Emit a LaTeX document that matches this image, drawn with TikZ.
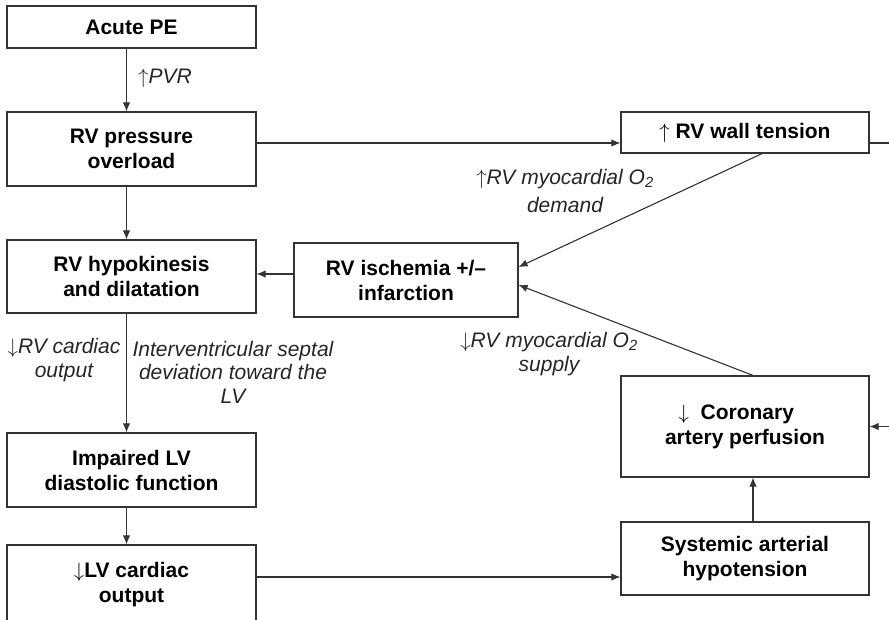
\documentclass[tikz,border=0pt]{standalone}
\usepackage{fontspec}
\setmainfont{Liberation Sans}
\usetikzlibrary{arrows.meta,calc}
\definecolor{ln}{HTML}{333333}
\newcommand{\upar}{\ensuremath{\uparrow}}
\newcommand{\dnar}{\ensuremath{\downarrow}}
\tikzset{
  box/.style={draw=ln, line width=1.2pt, rectangle, inner sep=0pt, align=center,
    font=\fontsize{21}{25}\selectfont\bfseries, text=black},
  lbl/.style={inner sep=0pt, align=center, font=\fontsize{21}{23.5}\selectfont\itshape, text=black!85},
  arr/.style={draw=ln, line width=1.1pt, -{Latex[length=9pt,width=7.5pt]}},
  ln/.style={draw=ln, line width=1.1pt}
}
\begin{document}
\begin{tikzpicture}[x=1pt,y=-1pt]
\useasboundingbox (0,0) rectangle (889,619);
\clip (0,0) rectangle (889,619);
% boxes
\node[box, minimum width=249pt, minimum height=42pt] (ape) at (131.5,27) {Acute PE};
\node[box, minimum width=249pt, minimum height=74pt] (rvp) at (131.5,149) {RV pressure\\overload};
\node[box, minimum width=249pt, minimum height=73pt] (hyp) at (131.5,276.5) {RV hypokinesis\\and dilatation};
\node[box, minimum width=249pt, minimum height=74pt] (ilv) at (131.5,470) {Impaired LV\\diastolic function};
\node[box, minimum width=249pt, minimum height=79pt] (lvo) at (131.5,584.5) {\dnar LV cardiac\\output};
\node[box, minimum width=248pt, minimum height=41pt] (wt) at (745,132.5) {\upar\ RV wall tension};
\node[box, minimum width=224pt, minimum height=74pt] (isc) at (406,280) {RV ischemia +/\char"2013\\infarction};
\node[box, minimum width=248pt, minimum height=101pt] (cor) at (745,426.5) {\dnar\ \ Coronary\ \ \ \ \\artery perfusion};
\node[box, minimum width=248pt, minimum height=73pt] (sys) at (745,558.5) {Systemic arterial\\hypotension};
% labels
\node[lbl] (lpvr) at (165,78) {\upar PVR};
\node[lbl] (ldem) at (565,191) {\upar RV myocardial O\textsubscript{2}\\[5pt]demand};
\node[lbl] (lsup) at (549,354) {\dnar RV myocardial O\textsubscript{2}\\supply};
\node[lbl] (lrvco) at (64,360) {\dnar RV cardiac\\output};
\node[lbl] (lsep) at (233,372) {Interventricular septal\\deviation toward the\\LV};
% connectors
\draw[arr] ([xshift=-5pt]ape.south) -- ([xshift=-5pt]rvp.north);
\draw[arr] ([xshift=-5pt]rvp.south) -- ([xshift=-5pt]hyp.north);
\draw[arr] ([xshift=-5pt]hyp.south) -- ([xshift=-5pt]ilv.north);
\draw[arr] ([xshift=-5pt]ilv.south) -- ([xshift=-5pt]lvo.north);
\draw[arr] ([yshift=6pt]rvp.east) -- ([yshift=6pt]rvp.east -| wt.west);
\draw[arr] ([yshift=-10.5pt]wt.east) -- ++(40pt,0) |- (cor.east);
\draw[arr] ([yshift=6pt]isc.west) -- ([yshift=6pt]isc.west -| hyp.east);
\draw[arr] ([xshift=17pt]wt.south) -- ([yshift=13pt]isc.east);
\draw[arr] ([xshift=8pt]cor.north) -- ([yshift=-5pt]isc.east);
\draw[arr] ([xshift=8pt]sys.north) -- ([xshift=8pt]cor.south);
\draw[arr] ([yshift=7.5pt]lvo.east) -- ([yshift=7.5pt]lvo.east -| sys.west);
\end{tikzpicture}
\end{document}
